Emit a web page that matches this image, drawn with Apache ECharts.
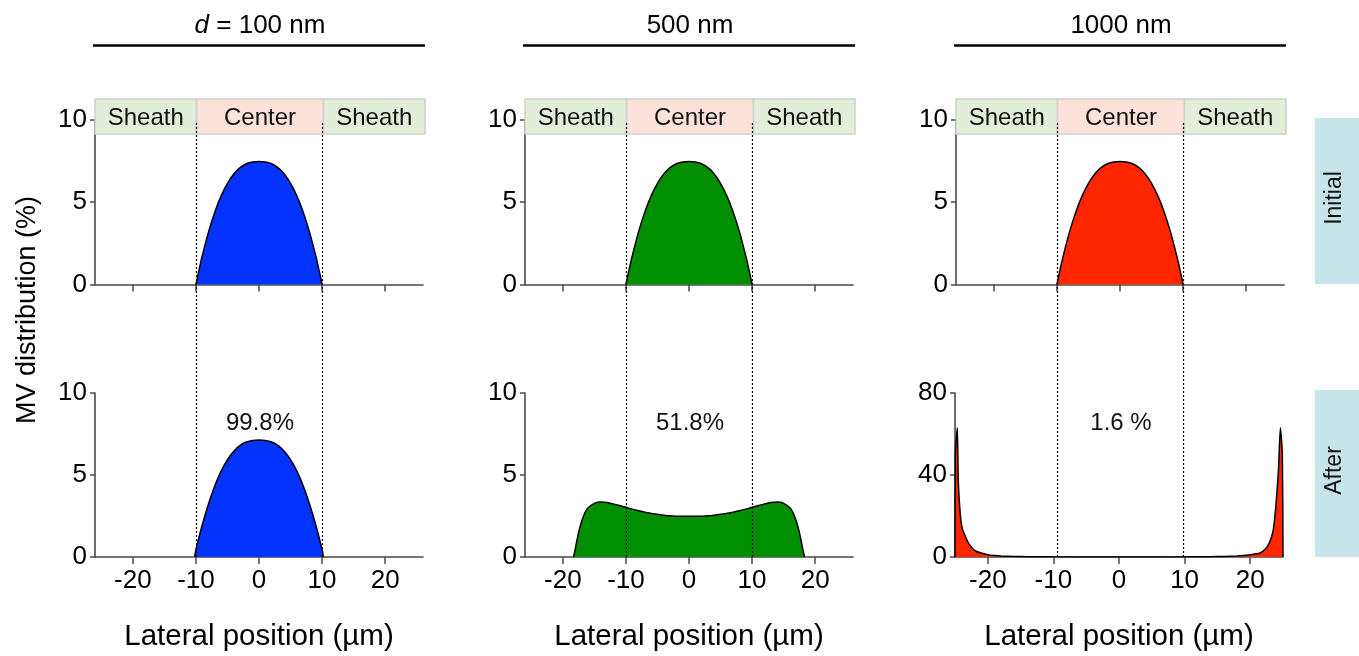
<!DOCTYPE html>
<html><head><meta charset="utf-8">
<script src="https://cdn.jsdelivr.net/npm/echarts@6/dist/echarts.min.js"></script>
<style>html,body{margin:0;padding:0;background:#fff}#c{width:1359px;height:656px}</style>
</head><body><div id="c"></div>
<script>
// ---------- data ----------
const headers = ['{i|d} = 100 nm', '500 nm', '1000 nm'];
const percentLabels = ['99.8%', '51.8%', '1.6 %'];
const rowLabels = ['Initial', 'After'];
const yAxisTitle = 'MV distribution (%)';
const xAxisTitle = 'Lateral position (µm)';
const xTickValues = [-20, -10, 0, 10, 20];
const topYMax = [10, 10, 10];
const topYStep = [5, 5, 5];
const afterYMax = [10, 10, 80];
const afterYStep = [5, 5, 40];
const xRangeTop = [[-26, 26], [-26, 26], [-26, 26]];
const xRangeAfter = [[-26, 26], [-26, 26], [-25, 25]];
const regionNames = ['Sheath', 'Center', 'Sheath'];
const regionBounds = [[-26, -10], [-10, 10], [10, 26]];
const centerBounds = [-10, 10];

const initialProfile = [
  [-10, 0], [-9.5, 0.90], [-9, 1.73], [-8, 3.19], [-7, 4.40], [-6, 5.37], [-5, 6.13],
  [-4, 6.70], [-3, 7.08], [-2, 7.32], [-1, 7.43], [0, 7.45], [1, 7.43], [2, 7.32],
  [3, 7.08], [4, 6.70], [5, 6.13], [6, 5.37], [7, 4.40], [8, 3.19], [9, 1.73], [9.5, 0.90], [10, 0]
];
const after100 = [
  [-10.2, 0], [-10, 0.45], [-9, 1.95], [-8, 3.25], [-7, 4.35], [-6, 5.24], [-5, 5.93],
  [-4, 6.45], [-3, 6.80], [-2, 7.01], [-1, 7.11], [0, 7.13], [1, 7.11], [2, 7.01],
  [3, 6.80], [4, 6.45], [5, 5.93], [6, 5.24], [7, 4.35], [8, 3.25], [9, 1.95], [10, 0.45], [10.2, 0]
];
const after500 = [
  [-18.3, 0], [-18, 0.55], [-17.5, 1.5], [-17, 2.2], [-16.5, 2.7], [-16, 3.0], [-15, 3.27],
  [-14, 3.35], [-13, 3.32], [-12, 3.24], [-11, 3.14], [-10, 3.03], [-9, 2.92], [-8, 2.82],
  [-7, 2.73], [-6, 2.66], [-5, 2.60], [-4, 2.55], [-3, 2.51], [-2, 2.49], [-1, 2.48], [0, 2.48],
  [1, 2.48], [2, 2.49], [3, 2.51], [4, 2.55], [5, 2.60], [6, 2.66], [7, 2.73], [8, 2.82],
  [9, 2.92], [10, 3.03], [11, 3.14], [12, 3.24], [13, 3.32], [14, 3.35], [15, 3.27], [16, 3.0],
  [16.5, 2.7], [17, 2.2], [17.5, 1.5], [18, 0.55], [18.3, 0]
];
const after1000 = [
  [-25, 0], [-24.95, 50], [-24.65, 63], [-24.5, 37], [-24.2, 21], [-23.9, 14], [-23.4, 9.9],
  [-22.9, 6.5], [-22.4, 4.4], [-21.8, 2.8], [-20.9, 1.8], [-20, 1.1], [-19, 0.7], [-18, 0.45],
  [-16, 0.25], [-14, 0.15], [-10, 0.08], [0, 0.05], [10, 0.08], [14, 0.15], [16, 0.25],
  [18, 0.45], [19, 0.7], [20, 1.1], [21.4, 1.8], [22.2, 3.5], [22.9, 6.8], [23.5, 13],
  [23.9, 24.5], [24.3, 42], [24.6, 63], [24.9, 50], [25, 0]
];
const afterProfiles = [after100, after500, after1000];
const fillColors = ['#0433FF', '#008F00', '#FF2600'];
const regionColors = ['#E3EED9', '#FCE2D8', '#E3EED9'];

// ---------- layout ----------
const FONT = 'Liberation Sans, Arial, Helvetica, sans-serif';
const colLeftTop = [95, 525, 956];
const colLeftAfter = [95, 525, 955];
const W = 328;
const topTop = 119.5, topH = 165;
const aftTop = 393, aftH = 164;
const bandTop = 99, bandH = 35;

const grids = [], xAxes = [], yAxes = [], series = [];
const lineCol = '#4a4a4a';
const axisLine = { onZero: false, lineStyle: { color: lineCol, width: 1.6 } };

function addGrid(g) { grids.push(g); return grids.length - 1; }

for (let c = 0; c < 3; c++) {
  // top panel
  let gi = addGrid({ left: colLeftTop[c], top: topTop, width: W, height: topH });
  xAxes.push({ gridIndex: gi, type: 'value', min: xRangeTop[c][0], max: xRangeTop[c][1],
    axisLine, splitLine: { show: false },
    axisTick: { customValues: xTickValues, length: 7, lineStyle: { color: lineCol, width: 1.5 } },
    axisLabel: { show: false, customValues: xTickValues } });
  yAxes.push({ gridIndex: gi, type: 'value', min: 0, max: topYMax[c], interval: topYStep[c],
    axisLine: { show: true, onZero: false, lineStyle: axisLine.lineStyle }, splitLine: { show: false },
    axisTick: { show: true, length: 5, lineStyle: { color: lineCol, width: 1.5 } },
    axisLabel: { fontSize: 26, color: '#000', fontFamily: FONT, margin: 8 } });
  series.push({ type: 'line', xAxisIndex: xAxes.length - 1, yAxisIndex: yAxes.length - 1,
    data: initialProfile, smooth: 0.35, symbol: 'none', z: 3,
    lineStyle: { color: '#000', width: 1.5 }, areaStyle: { color: fillColors[c], opacity: 1 } });

  // after panel
  gi = addGrid({ left: colLeftAfter[c], top: aftTop, width: W, height: aftH });
  xAxes.push({ gridIndex: gi, type: 'value', min: xRangeAfter[c][0], max: xRangeAfter[c][1],
    axisLine, splitLine: { show: false },
    axisTick: { customValues: xTickValues, length: 7, lineStyle: { color: lineCol, width: 1.5 } },
    axisLabel: { customValues: xTickValues, fontSize: 26, color: '#000', fontFamily: FONT, margin: 11 },
    name: xAxisTitle, nameLocation: 'middle', nameGap: 65,
    nameTextStyle: { fontSize: 29.5, color: '#000', fontFamily: FONT } });
  yAxes.push({ gridIndex: gi, type: 'value', min: 0, max: afterYMax[c], interval: afterYStep[c],
    axisLine: { show: true, onZero: false, lineStyle: axisLine.lineStyle }, splitLine: { show: false },
    axisTick: { show: true, length: 5, lineStyle: { color: lineCol, width: 1.5 } },
    axisLabel: { fontSize: 26, color: '#000', fontFamily: FONT, margin: 8 } });
  series.push({ type: 'line', xAxisIndex: xAxes.length - 1, yAxisIndex: yAxes.length - 1,
    data: afterProfiles[c], smooth: c === 2 ? 0.2 : 0.35, symbol: 'none', z: 3,
    lineStyle: { color: '#000', width: 1.5 }, areaStyle: { color: fillColors[c], opacity: 1 } });

  // region band
  gi = addGrid({ left: colLeftTop[c], top: bandTop, width: W + 2, height: bandH });
  xAxes.push({ gridIndex: gi, type: 'value', min: regionBounds[0][0], max: regionBounds[2][1], show: false });
  yAxes.push({ gridIndex: gi, type: 'value', min: 0, max: 1, show: false });
  series.push({ type: 'line', xAxisIndex: xAxes.length - 1, yAxisIndex: yAxes.length - 1,
    data: [], z: 4, silent: true,
    markArea: { silent: true,
      label: { show: true, position: 'inside', offset: [0, 2], fontSize: 24, color: '#111', fontFamily: FONT },
      data: regionBounds.map((b, i) => [
        { name: regionNames[i], xAxis: b[0], yAxis: 0,
          itemStyle: { color: regionColors[i], borderColor: '#cfcfcf', borderWidth: 1.5 } },
        { xAxis: b[1], yAxis: 1 }
      ]) } });

  // dotted center boundaries, spanning both rows
  gi = addGrid({ left: colLeftTop[c], top: 121, width: W, height: aftTop + aftH - 121 });
  xAxes.push({ gridIndex: gi, type: 'value', min: xRangeTop[c][0], max: xRangeTop[c][1], show: false });
  yAxes.push({ gridIndex: gi, type: 'value', min: 0, max: 1, show: false });
  series.push({ type: 'line', xAxisIndex: xAxes.length - 1, yAxisIndex: yAxes.length - 1,
    data: [], z: 6, silent: true,
    markLine: { silent: true, symbol: ['none', 'none'], label: { show: false },
      lineStyle: { type: [2, 2], color: '#000', width: 1.2 },
      data: centerBounds.map(v => ({ xAxis: v })) } });
}

// ---------- annotations ----------
const graphic = [];
for (let c = 0; c < 3; c++) {
  const cx = colLeftTop[c] + W / 2;
  graphic.push({ type: 'text', x: cx + 1, y: 26, style: { text: headers[c], fontSize: 26,
    fontFamily: FONT, fill: '#000', align: 'center', verticalAlign: 'middle',
    rich: { i: { fontStyle: 'italic', fontSize: 26, fontFamily: FONT } } } });
  graphic.push({ type: 'line', shape: { x1: colLeftTop[c] - 2, y1: 45.5, x2: colLeftTop[c] + W + 2, y2: 45.5 },
    style: { stroke: '#000', lineWidth: 2.5 } });
  graphic.push({ type: 'text', x: cx + 1, y: 423, style: { text: percentLabels[c], fontSize: 24,
    fontFamily: FONT, fill: '#111', align: 'center', verticalAlign: 'middle' } });
}
const boxY = [[118, 284], [390, 557]];
for (let r = 0; r < 2; r++) {
  graphic.push({ type: 'rect', shape: { x: 1315, y: boxY[r][0], width: 44, height: boxY[r][1] - boxY[r][0] },
    style: { fill: '#C6E5E9' } });
  graphic.push({ type: 'text', x: 1335, y: (boxY[r][0] + boxY[r][1]) / 2 - 3, rotation: Math.PI / 2,
    style: { text: rowLabels[r], fontSize: 23, fontFamily: FONT, fill: '#111', align: 'center', verticalAlign: 'middle' } });
}
graphic.push({ type: 'text', x: 28, y: 310, rotation: Math.PI / 2,
  style: { text: yAxisTitle, fontSize: 27, fontFamily: FONT, fill: '#000', align: 'center', verticalAlign: 'middle' } });

const chart = echarts.init(document.getElementById('c'), null, { renderer: 'canvas' });
chart.setOption({
  animation: false,
  backgroundColor: '#fff',
  textStyle: { fontFamily: FONT },
  grid: grids, xAxis: xAxes, yAxis: yAxes, series, graphic
});
</script></body></html>
